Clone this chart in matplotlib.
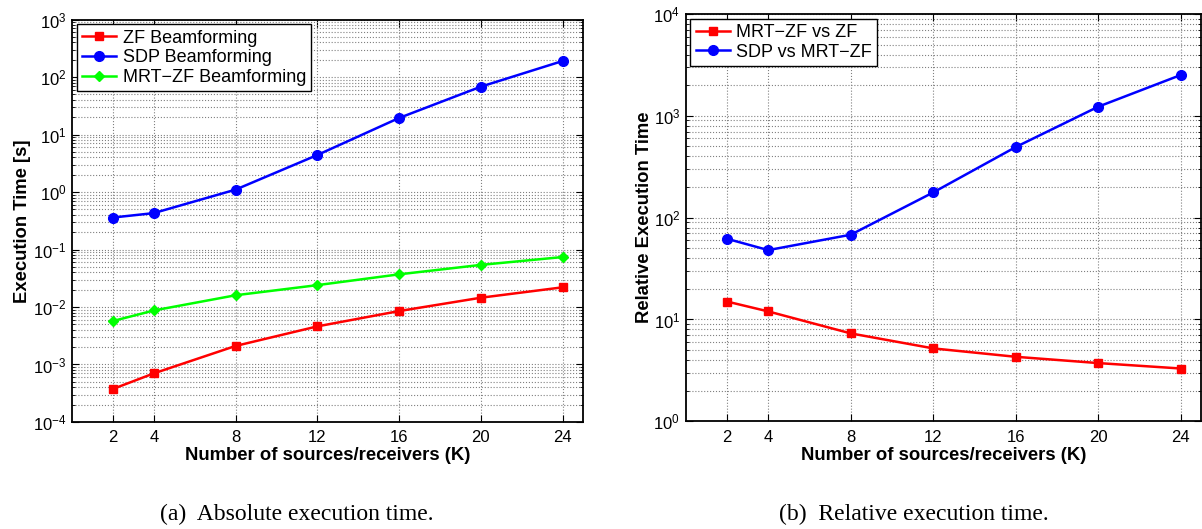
import numpy as np
import matplotlib
matplotlib.use('Agg')
import matplotlib.pyplot as plt
from matplotlib.ticker import LogLocator, FixedLocator

plt.rcParams['font.family'] = 'Liberation Sans'
plt.rcParams['mathtext.fontset'] = 'custom'
plt.rcParams['mathtext.rm'] = 'Liberation Sans'
plt.rcParams['mathtext.it'] = 'Liberation Sans:italic'
plt.rcParams['mathtext.bf'] = 'Liberation Sans:bold'
plt.rcParams['font.size'] = 12

# data
K = [2, 4, 8, 12, 16, 20, 24]
zf_time = [3.75e-4, 7.0e-4, 2.1e-3, 4.6e-3, 8.5e-3, 1.45e-2, 2.2e-2]
sdp_time = [0.36, 0.43, 1.1, 4.4, 19.4, 68, 190]
mrtzf_time = [5.7e-3, 8.7e-3, 1.6e-2, 2.4e-2, 3.7e-2, 5.4e-2, 7.4e-2]

rel_mrtzf_zf = [15, 12, 7.3, 5.2, 4.3, 3.73, 3.3]
rel_sdp_mrtzf = [62, 48, 68, 177, 494, 1230, 2518]

xlabel = 'Number of sources/receivers (K)'
captions = ['(a)  Absolute execution time.', '(b)  Relative execution time.']

fig = plt.figure(figsize=(12.02, 5.29), dpi=100)
ax1 = fig.add_axes([0.0599, 0.2023, 0.4251, 0.7607])
ax2 = fig.add_axes([0.5705, 0.2036, 0.4290, 0.7699])


def style(ax, ylim):
    ax.set_yscale('log')
    ax.set_xlim(0, 25)
    ax.set_ylim(*ylim)
    ax.xaxis.set_major_locator(FixedLocator(K))
    ax.yaxis.set_major_locator(LogLocator(base=10, numticks=20))
    ax.yaxis.set_minor_locator(LogLocator(base=10, subs=np.arange(2, 10), numticks=100))
    ax.tick_params(which='both', direction='in', top=True, right=True, labelsize=12)
    ax.tick_params(which='major', length=5, width=0.8, pad=4)
    ax.tick_params(axis='x', which='major', pad=6)
    ax.tick_params(which='minor', length=2.5, width=0.6)
    ax.grid(which='major', axis='both', linestyle=':', color='0.5', linewidth=0.8)
    ax.grid(which='minor', axis='y', linestyle=':', color='0.5', linewidth=0.8)
    for s in ax.spines.values():
        s.set_linewidth(1.3)
    ax.set_xlabel(xlabel, fontweight='bold', fontsize=13.3, labelpad=1.5)


def add_legend(ax):
    leg = ax.legend(loc='upper left', fancybox=False, edgecolor='black', framealpha=1,
                    fontsize=13, borderaxespad=0.25, handlelength=1.9, labelspacing=0.15,
                    borderpad=0.3, handletextpad=0.35)
    leg.get_frame().set_linewidth(1.0)


style(ax1, (1e-4, 1e3))
ax1.plot(K, zf_time, '-s', color='#ff0000', lw=1.8, ms=6, label='ZF Beamforming')
ax1.plot(K, sdp_time, '-o', color='#0000ff', lw=1.8, ms=7, label='SDP Beamforming')
ax1.plot(K, mrtzf_time, '-D', color='#00ff00', lw=1.8, ms=5.5, label='MRT\u2212ZF Beamforming')
ax1.set_ylabel('Execution Time [s]', fontweight='bold', fontsize=13.3, labelpad=1.5)
add_legend(ax1)

style(ax2, (1e0, 1e4))
ax2.plot(K, rel_mrtzf_zf, '-s', color='#ff0000', lw=1.8, ms=6, label='MRT\u2212ZF vs ZF')
ax2.plot(K, rel_sdp_mrtzf, '-o', color='#0000ff', lw=1.8, ms=7, label='SDP vs MRT\u2212ZF')
ax2.set_ylabel('Relative Execution Time', fontweight='bold', fontsize=13.3, labelpad=0.5)
add_legend(ax2)

fig.text(0.247, 0.028, captions[0], ha='center', va='center',
         family='Liberation Serif', fontsize=17)
fig.text(0.76, 0.028, captions[1], ha='center', va='center',
         family='Liberation Serif', fontsize=17)

fig.savefig('out.png', dpi=100)
